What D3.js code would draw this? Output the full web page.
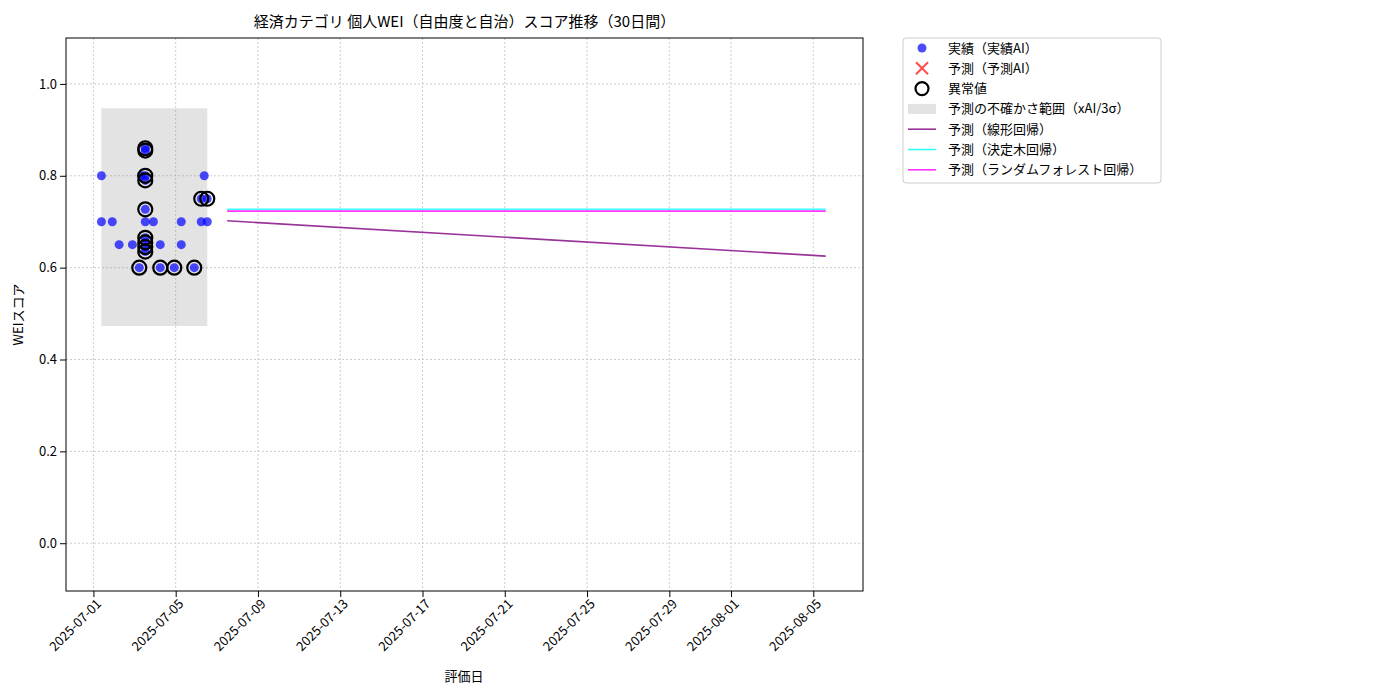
<!DOCTYPE html><html><head><meta charset="utf-8"><script src="https://cdn.jsdelivr.net/npm/d3@7"></script>
<style>body{margin:0;background:#fff}text{font-family:"Noto Sans CJK JP","DejaVu Sans",sans-serif}</style></head><body><svg id="c" width="1400" height="700"></svg><script>
const actualDates=["2025-07-01T09:20","2025-07-01T09:20","2025-07-01T22:00","2025-07-02T06:00","2025-07-02T21:30","2025-07-03T05:30","2025-07-03T08:00","2025-07-03T12:30","2025-07-03T12:30","2025-07-03T12:30","2025-07-03T12:30","2025-07-03T12:30","2025-07-03T12:30","2025-07-03T12:30","2025-07-03T12:30","2025-07-03T12:30","2025-07-03T12:30","2025-07-03T22:00","2025-07-04T06:00","2025-07-04T06:00","2025-07-04T22:20","2025-07-05T06:30","2025-07-05T06:30","2025-07-05T21:40","2025-07-06T05:50","2025-07-06T05:50","2025-07-06T09:20","2025-07-06T12:50","2025-07-06T12:50"];
const actualValues=[0.80,0.70,0.70,0.65,0.65,0.60,0.80,0.86,0.855,0.80,0.79,0.727,0.70,0.665,0.655,0.645,0.635,0.70,0.65,0.60,0.60,0.70,0.65,0.60,0.75,0.70,0.80,0.75,0.70];
const anomalyIdx=[5,7,8,9,10,11,13,14,15,16,19,20,23,24,27];
const bandRange=["2025-07-01T09:20","2025-07-06T12:50"], bandLow=0.473, bandHigh=0.947;
const fcDates=["2025-07-07T12:00","2025-08-05T14:30"];
const fcLinear=[0.702,0.625], fcTree=[0.727,0.727], fcRF=[0.723,0.723];
const yTicks=[0.0,0.2,0.4,0.6,0.8,1.0];
const xTicks=["2025-07-01","2025-07-05","2025-07-09","2025-07-13","2025-07-17","2025-07-21","2025-07-25","2025-07-29","2025-08-01","2025-08-05"];
const P=d3.timeParse("%Y-%m-%dT%H:%M"), PD=d3.timeParse("%Y-%m-%d");
const svg=d3.select("#c");
const L=66,R=863,T=38,B=591;
const x=d3.scaleTime().domain([P("2025-06-29T16:00"),P("2025-08-07T10:00")]).range([L,R]);
const y=d3.scaleLinear().domain([-0.104,1.1]).range([B,T]);
const g=svg.append("g");
// grid
xTicks.forEach(t=>g.append("line").attr("x1",x(PD(t))).attr("x2",x(PD(t))).attr("y1",T).attr("y2",B).attr("stroke","#ccc").attr("stroke-dasharray","2,2"));
yTicks.forEach(t=>g.append("line").attr("x1",L).attr("x2",R).attr("y1",y(t)).attr("y2",y(t)).attr("stroke","#ccc").attr("stroke-dasharray","2,2"));
g.append("rect").attr("x",x(P(bandRange[0]))).attr("width",x(P(bandRange[1]))-x(P(bandRange[0]))).attr("y",y(bandHigh)).attr("height",y(bandLow)-y(bandHigh)).attr("fill","#808080").attr("fill-opacity",0.22);
actualDates.forEach((d,i)=>g.append("circle").attr("cx",x(P(d))).attr("cy",y(actualValues[i])).attr("r",4.5).attr("fill","#0000ff").attr("fill-opacity",0.7));
anomalyIdx.forEach(i=>g.append("circle").attr("cx",x(P(actualDates[i]))).attr("cy",y(actualValues[i])).attr("r",7).attr("fill","none").attr("stroke","#000").attr("stroke-width",2.2));
const line=d3.line().x(d=>x(P(d[0]))).y(d=>y(d[1]));
[[fcTree,"#00ffff"],[fcRF,"#ff00ff"],[fcLinear,"#800080"]].forEach(([v,c])=>g.append("path").attr("d",line(fcDates.map((d,i)=>[d,v[i]]))).attr("stroke",c).attr("stroke-opacity",0.8).attr("stroke-width",1.6).attr("fill","none"));
svg.append("rect").attr("x",L).attr("y",T).attr("width",R-L).attr("height",B-T).attr("fill","none").attr("stroke","#000");
const ya=svg.append("g").attr("transform",`translate(${L},0)`).call(d3.axisLeft(y).tickValues(yTicks).tickFormat(d3.format(".1f")).tickSizeOuter(0));
ya.select(".domain").remove();ya.selectAll("text").attr("font-size",13).attr("fill","#000");
const xa=svg.append("g").attr("transform",`translate(0,${B})`).call(d3.axisBottom(x).tickValues(xTicks.map(PD)).tickFormat(d3.timeFormat("%Y-%m-%d")).tickSizeOuter(0));
xa.select(".domain").remove();
xa.selectAll("text").attr("font-size",13).attr("fill","#000").attr("text-anchor","end").attr("transform","rotate(-45)").attr("dx","-0.3em").attr("dy","0.5em");
svg.append("text").attr("x",(L+R)/2).attr("y",27).attr("text-anchor","middle").attr("font-size",15).text("経済カテゴリ 個人WEI（自由度と自治）スコア推移（30日間）");
svg.append("text").attr("x",464).attr("y",681).attr("text-anchor","middle").attr("font-size",13).text("評価日");
svg.append("text").attr("transform",`translate(23,${(T+B)/2}) rotate(-90)`).attr("text-anchor","middle").attr("font-size",13).text("WEIスコア");
const lg=svg.append("g");
lg.append("rect").attr("x",903).attr("y",38).attr("width",258).attr("height",145).attr("fill","#fff").attr("stroke","#ccc").attr("rx",3);
const items=["実績（実績AI）","予測（予測AI）","異常値","予測の不確かさ範囲（xAI/3σ）","予測（線形回帰）","予測（決定木回帰）","予測（ランダムフォレスト回帰）"];
items.forEach((t,i)=>{const yy=48+i*20.3,cx=922;
 if(i==0)lg.append("circle").attr("cx",cx).attr("cy",yy).attr("r",4.5).attr("fill","#0000ff").attr("fill-opacity",0.7);
 if(i==1){lg.append("path").attr("d",`M${cx-6},${yy-6}L${cx+6},${yy+6}M${cx-6},${yy+6}L${cx+6},${yy-6}`).attr("stroke","#ff0000").attr("stroke-opacity",0.7).attr("stroke-width",2);}
 if(i==2)lg.append("circle").attr("cx",cx).attr("cy",yy).attr("r",6.5).attr("fill","none").attr("stroke","#000").attr("stroke-width",2.2);
 if(i==3)lg.append("rect").attr("x",908).attr("y",yy-5).attr("width",28).attr("height",10).attr("fill","#808080").attr("fill-opacity",0.22);
 if(i>=4)lg.append("line").attr("x1",908).attr("x2",936).attr("y1",yy).attr("y2",yy).attr("stroke",["#800080","#00ffff","#ff00ff"][i-4]).attr("stroke-opacity",0.8).attr("stroke-width",1.6);
 lg.append("text").attr("x",948).attr("y",yy+4.5).attr("font-size",13).text(t);});
</script></body></html>
